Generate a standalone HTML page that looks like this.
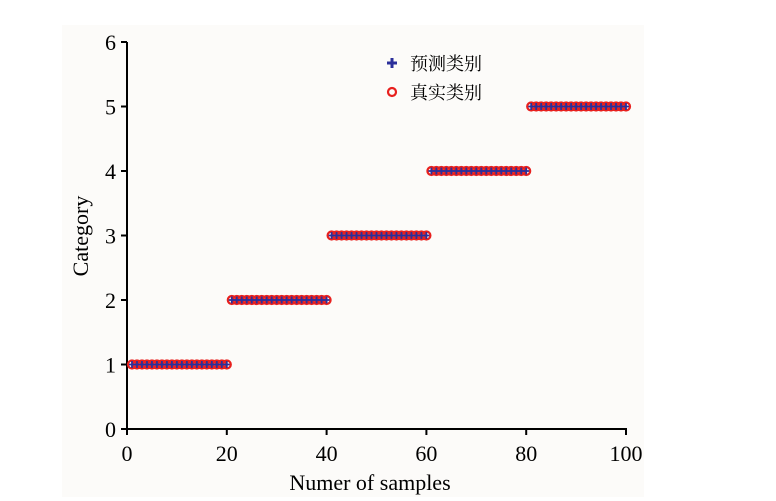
<!DOCTYPE html>
<html><head><meta charset="utf-8"><style>
body{margin:0;background:#fff;}
svg{display:block;font-family:"Liberation Serif","Noto Serif CJK SC",serif;}
</style></head><body>
<svg width="776" height="501">
<rect x="62" y="25" width="582" height="472" fill="#fcfbf9"/>
<g id="axes"></g>
<g id="marks"></g>
<text x="370" y="490" font-size="22" text-anchor="middle">Numer of samples</text>
<text transform="translate(88,236) rotate(-90)" font-size="22" text-anchor="middle">Category</text>
<g>
<g>
<path d="M392 58v10M387 63h10" stroke="#2a2f9a" stroke-width="3"/>
<text x="410" y="70" font-size="18">预测类别</text></g>
<g>
<circle cx="392" cy="92" r="4" fill="none" stroke="#e8201e" stroke-width="2.2"/>
<text x="410" y="99" font-size="18">真实类别</text></g>
</g>
</svg>
<script>
const sampleIndex = Array.from({length:100},(_,i)=>i+1);
const actualCategory = [1,1,1,1,1,1,1,1,1,1,1,1,1,1,1,1,1,1,1,1,2,2,2,2,2,2,2,2,2,2,2,2,2,2,2,2,2,2,2,2,3,3,3,3,3,3,3,3,3,3,3,3,3,3,3,3,3,3,3,3,4,4,4,4,4,4,4,4,4,4,4,4,4,4,4,4,4,4,4,4,5,5,5,5,5,5,5,5,5,5,5,5,5,5,5,5,5,5,5,5];
const predictedCategory = actualCategory.slice();
const xTicks = [0,20,40,60,80,100];
const yTicks = [0,1,2,3,4,5,6];
const NS='http://www.w3.org/2000/svg';
const xs=v=>127+v*4.99, ys=v=>429-v*64.5;
function mk(t,a,p){const e=document.createElementNS(NS,t);for(const k in a)e.setAttribute(k,a[k]);p.appendChild(e);return e;}
const ax=document.getElementById('axes'), mg=document.getElementById('marks');
let l=mk('line',{x1:127,y1:ys(6),x2:127,y2:430,stroke:'#000','stroke-width':2},ax);


l=mk('line',{x1:126,y1:429,x2:627,y2:429,stroke:'#000','stroke-width':2},ax);


xTicks.forEach(v=>{
 mk('line',{x1:xs(v),y1:429,x2:xs(v),y2:435,stroke:'#000','stroke-width':2},ax);
 const t=mk('text',{x:xs(v),y:461,'font-size':22,'text-anchor':'middle'},ax);t.textContent=v;
 
 
});
yTicks.forEach(v=>{
 mk('line',{x1:121,y1:ys(v),x2:127,y2:ys(v),stroke:'#000','stroke-width':2},ax);
 const t=mk('text',{x:116,y:ys(v)+8,'font-size':22,'text-anchor':'end'},ax);t.textContent=v;
 
 
});
sampleIndex.forEach((s,i)=>{
 const c=mk('circle',{cx:xs(s),cy:ys(actualCategory[i]),r:4,fill:'none',stroke:'#e8201e','stroke-width':2.2},mg);
 
 
});
sampleIndex.forEach((s,i)=>{
 const x=xs(s),y=ys(predictedCategory[i]);
 const p=mk('path',{d:`M${x} ${y-3.5}v7M${x-3} ${y}h6`,stroke:'#2a2f9a','stroke-width':1.8},mg);
 
 
});
</script>
</body></html>
